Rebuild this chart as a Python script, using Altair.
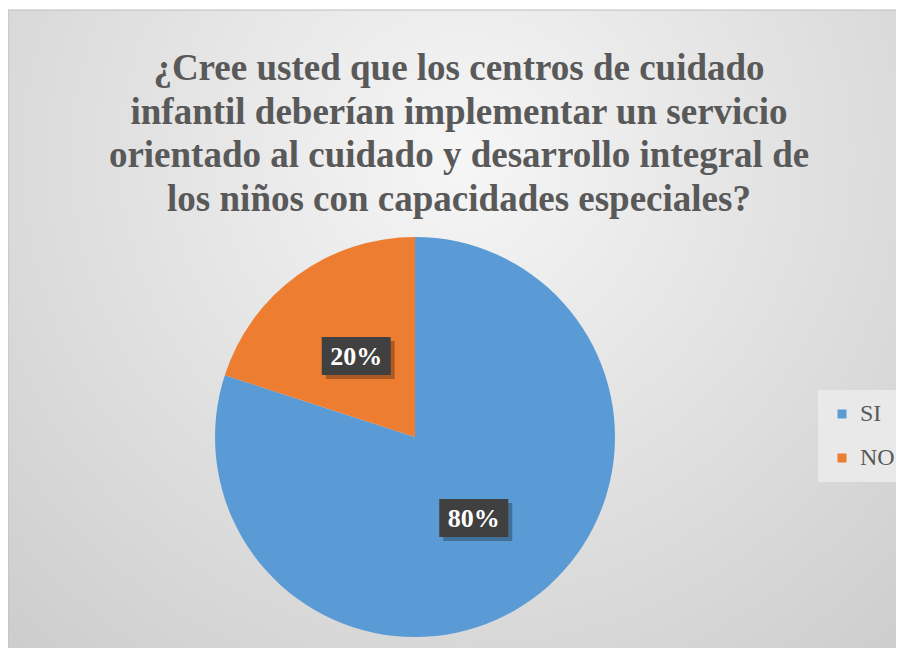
import altair as alt
import pandas as pd

# ---- data ----
categories = ["SI", "NO"]
values = [80, 20]
colors = ["#5B9BD5", "#ED7D31"]
title_lines = [
    "¿Cree usted que los centros de cuidado",
    "infantil deberían implementar un servicio",
    "orientado al cuidado y desarrollo integral de",
    "los niños con capacidades especiales?",
]

# ---- layout constants ----
W, H = 888, 640
CX, CY, R = 407, 429, 200
LR = 100
BW, BH = 69, 38
SERIF = "Liberation Serif"

df = pd.DataFrame({"cat": categories, "value": values, "ord": list(range(len(categories)))})
one = pd.DataFrame({"a": [0]})

bg = alt.Chart(one).mark_rect(
    fill=alt.Gradient(
        gradient="radial", x1=0.5, y1=0.3, r1=0, x2=0.5, y2=0.3, r2=0.8,
        stops=[alt.GradientStop(offset=0, color="#f6f6f6"),
               alt.GradientStop(offset=1, color="#c9c9c9")],
    ),
    stroke="#bdbdbd", strokeWidth=1,
).encode(x=alt.value(0), x2=alt.value(W + 20), y=alt.value(2), y2=alt.value(H + 20))

title = alt.Chart(one).mark_text(
    font=SERIF, fontWeight="bold", fontSize=37, color="#595959",
    lineHeight=43.5, align="center", baseline="alphabetic",
).encode(x=alt.value(451), y=alt.value(72), text=alt.value(title_lines))

base = alt.Chart(df)

pie = base.mark_arc(outerRadius=R).encode(
    theta=alt.Theta("value:Q", stack=True),
    color=alt.Color(
        "cat:N",
        scale=alt.Scale(domain=categories, range=colors),
        legend=alt.Legend(
            title=None, orient="none", legendX=810, legendY=382,
            fillColor="#e9e9e9", padding=12, symbolType="square",
            symbolSize=81, symbolStrokeWidth=0, labelFont=SERIF,
            labelFontSize=24, labelColor="#595959", rowPadding=20,
            labelOffset=6,
        ),
    ),
    order=alt.Order("ord:Q"),
    x=alt.value(CX),
    y=alt.value(CY),
)

lab = base.transform_joinaggregate(
    total="sum(value)"
).transform_window(
    cum="sum(value)", sort=[alt.SortField("ord")], frame=[None, 0]
).transform_calculate(
    mid="(datum.cum - datum.value/2)/datum.total*2*PI",
).transform_calculate(
    px=f"{CX} + {LR}*sin(datum.mid)",
    py=f"{CY} - {LR}*cos(datum.mid)",
    pct="format(datum.value/datum.total, '.0%')",
).transform_calculate(
    bx0=f"datum.px - {BW/2}", bx1=f"datum.px + {BW/2}",
    by0=f"datum.py - {BH/2}", by1=f"datum.py + {BH/2}",
    sx0=f"datum.px - {BW/2} + 4", sx1=f"datum.px + {BW/2} + 4",
    sy0=f"datum.py - {BH/2} + 4", sy1=f"datum.py + {BH/2} + 4",
)

shadow = lab.mark_rect(color="#000000", opacity=0.28).encode(
    x=alt.X("sx0:Q", scale=None, axis=None), x2="sx1:Q",
    y=alt.Y("sy0:Q", scale=None, axis=None), y2="sy1:Q",
)
box = lab.mark_rect(color="#404040").encode(
    x=alt.X("bx0:Q", scale=None, axis=None), x2="bx1:Q",
    y=alt.Y("by0:Q", scale=None, axis=None), y2="by1:Q",
)
txt = lab.mark_text(
    font=SERIF, fontWeight="bold", fontSize=26, color="#ffffff",
    align="center", baseline="alphabetic", dy=9,
).encode(
    x=alt.X("px:Q", scale=None, axis=None),
    y=alt.Y("py:Q", scale=None, axis=None),
    text="pct:N",
)

chart = alt.layer(bg, title, pie, shadow, box, txt).properties(
    width=W, height=H,
    autosize=alt.AutoSizeParams(type="none"),
    padding=0,
).configure_view(strokeWidth=0)

chart.save("out.html", embed_options={"renderer": "svg", "actions": False})
